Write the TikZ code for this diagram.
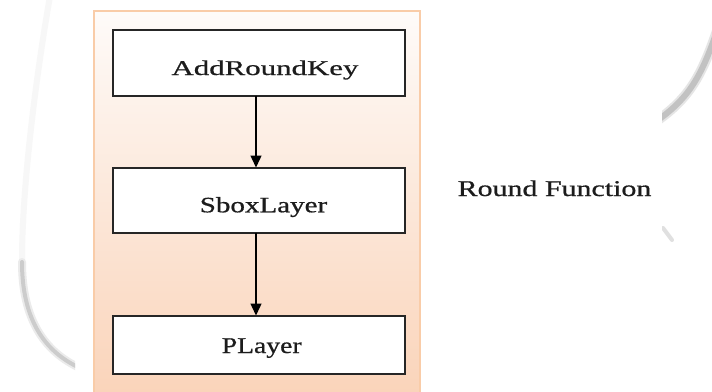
\documentclass[tikz,border=0pt]{standalone}
\usepackage{fontspec}
\setmainfont{Liberation Serif}
\newfontfamily\lblfont[FakeBold=0.6]{Liberation Serif}
\usepackage{graphicx}
\usetikzlibrary{arrows.meta}
\definecolor{peachtop}{RGB}{254,251,249}
\definecolor{peachbot}{RGB}{250,212,186}
\definecolor{peachline}{RGB}{249,204,168}
\definecolor{boxline}{RGB}{38,38,38}
\definecolor{txt}{RGB}{28,28,28}
\newcommand{\hsx}[2]{\scalebox{#1}[1]{#2}}
\begin{document}
\begin{tikzpicture}[x=1pt,y=-1pt,
  stage/.style={draw=boxline,line width=2pt,fill=white,minimum width=292pt,inner sep=0pt,outer sep=0pt},
  lbl/.style={anchor=base,inner sep=0pt,text=txt,font=\lblfont\fontsize{22}{26}\selectfont},
  flow/.style={-{Triangle[length=12pt,width=11pt]},line width=1.4pt,draw=black},
  swoosh/.style={line cap=round}]
\useasboundingbox (0,0) rectangle (712,391);
\fill[white] (0,0) rectangle (712,391);
% background swooshes
\draw[swoosh,black!3,line width=6pt] (50,-4) .. controls (32,100) and (22,200) .. (22,260);
\begin{scope}
  \clip (0,0) rectangle (75,391);
  \draw[swoosh,black!8,line width=8pt] (22,262) .. controls (22,320) and (45,352) .. (80,368);
  \draw[swoosh,black!20,line width=4pt] (22,262) .. controls (22,320) and (45,352) .. (80,368);
\end{scope}
\begin{scope}
  \clip (662,0) rectangle (712,391);
  \draw[swoosh,black!10,line width=10pt] (718,28) .. controls (702,75) and (690,97) .. (658,120);
  \draw[swoosh,black!24,line width=6pt] (718,28) .. controls (702,75) and (690,97) .. (658,120);
  \draw[swoosh,black!12,line width=4pt] (663,228) -- (672,240);
\end{scope}
% round function container
\shade[top color=peachtop,bottom color=peachbot] (94,11) rectangle (420,393);
\draw[peachline,line width=1.5pt] (94,393) -- (94,11) -- (420,11) -- (420,393);
% stages
\node[stage,minimum height=66pt] (ark) at (258.5,62.5) {};
\node[stage,minimum height=65pt] (sbl) at (258.5,200) {};
\node[stage,minimum height=58pt] (pl) at (258.5,344.5) {};
\node[lbl,font=\lblfont\fontsize{21}{25}\selectfont] (arkt) at (265,75) {\hsx{1.47}{AddRoundKey}};
\node[lbl] (sblt) at (263.5,212.3) {\hsx{1.32}{SboxLayer}};
\node[lbl,font=\lblfont\fontsize{22.5}{26}\selectfont] (plt) at (261.7,353) {\hsx{1.23}{PLayer}};
\node[lbl,font=\lblfont\fontsize{22.5}{26}\selectfont] (rf) at (554.5,196) {\hsx{1.33}{Round Function}};
% connectors
\coordinate (ax) at (256,0);
\draw[flow] (ark.south -| ax) -- (sbl.north -| ax);
\draw[flow] (sbl.south -| ax) -- (pl.north -| ax);
\end{tikzpicture}
\end{document}
